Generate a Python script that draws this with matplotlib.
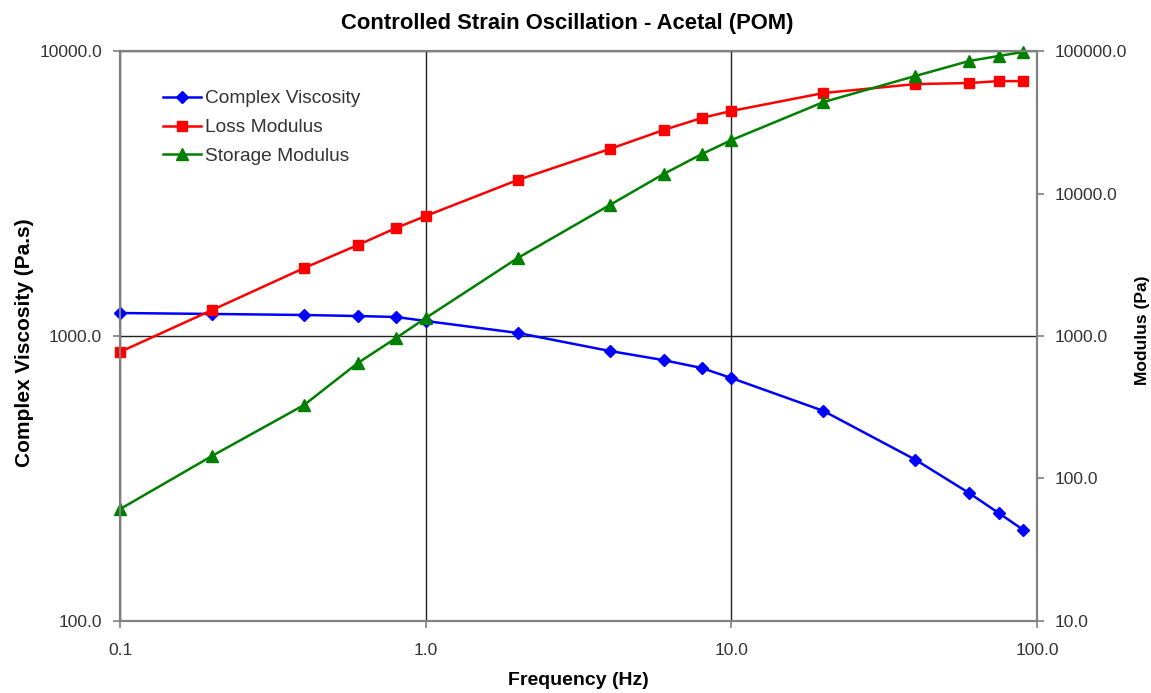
import matplotlib.pyplot as plt
from matplotlib.ticker import FixedLocator, FuncFormatter, NullLocator

plt.rcParams["font.family"] = ["Liberation Sans", "DejaVu Sans"]

# data
freq = [0.1, 0.2, 0.4, 0.6, 0.8, 1.0, 2, 4, 6, 8, 10, 20, 40, 60, 75, 90]
viscosity = [1204, 1195, 1185, 1175, 1166, 1129, 1025, 886, 823, 772, 712,
             546, 368, 281, 239, 209]
loss_mod = [773, 1521, 2999, 4350, 5730, 6953, 12440, 20530, 27900, 33900,
            37950, 50700, 58600, 59600, 61500, 61500]
storage_mod = [61, 144, 328, 647, 968, 1337, 3524, 8300, 13700, 18900,
               23700, 43800, 66800, 85100, 92300, 98400]

x_ticks = [0.1, 1.0, 10.0, 100.0]
left_ticks = [100.0, 1000.0, 10000.0]
right_ticks = [10.0, 100.0, 1000.0, 10000.0, 100000.0]

fig = plt.figure(figsize=(11.51, 6.93), dpi=100)
ax = fig.add_axes([0.1043, 0.1039, 0.7967, 0.8225])
ax2 = ax.twinx()

fmt = FuncFormatter(lambda v, p: f"{v:.1f}")

ax.set_xscale("log")
ax.set_yscale("log")
ax.set_xlim(0.1, 100)
ax.set_ylim(100, 10000)
ax.xaxis.set_major_locator(FixedLocator(x_ticks))
ax.yaxis.set_major_locator(FixedLocator(left_ticks))
ax.xaxis.set_minor_locator(NullLocator())
ax.yaxis.set_minor_locator(NullLocator())
ax.xaxis.set_major_formatter(fmt)
ax.yaxis.set_major_formatter(fmt)
ax.grid(True, color="#222222", linewidth=1.0)

ax2.set_yscale("log")
ax2.set_ylim(10, 100000)
ax2.yaxis.set_major_locator(FixedLocator(right_ticks))
ax2.yaxis.set_minor_locator(NullLocator())
ax2.yaxis.set_major_formatter(fmt)

for a in (ax, ax2):
    for s in a.spines.values():
        s.set_color("#808080")
        s.set_linewidth(1.5)
    a.tick_params(axis="both", direction="out", length=5, width=1.2,
                  color="#808080", labelsize=12.5, labelcolor="#333333", pad=8)
ax.tick_params(axis="x", pad=11)

l1, = ax.plot(freq, viscosity, color="#0000ff", marker="D", markersize=6,
              linewidth=1.8, label="Complex Viscosity")
l2, = ax2.plot(freq, loss_mod, color="#ff0000", marker="s", markersize=6.5,
               linewidth=1.8, label="Loss Modulus")
l3, = ax2.plot(freq, storage_mod, color="#008000", marker="^", markersize=8,
               linewidth=1.8, label="Storage Modulus")
for ln in (l1, l2, l3):
    ln.set_clip_on(False)

ax.set_xlabel("Frequency (Hz)", fontsize=14, fontweight="bold", labelpad=10)
ax.set_ylabel("Complex Viscosity (Pa.s)", fontsize=15, fontweight="bold",
              va="center", ha="center")
ax.yaxis.set_label_coords(-0.104, 0.488)
ax2.set_ylabel("Modulus (Pa)", fontsize=12.5, fontweight="bold",
               va="center", ha="center")
ax2.yaxis.set_label_coords(1.1145, 0.51)
ax.set_title("Controlled Strain Oscillation - Acetal (POM)", fontsize=15.8,
             fontweight="bold", x=0.488, y=1.049, va="center", pad=0)

leg = ax2.legend(handles=[l1, l2, l3], loc="upper left",
                 bbox_to_anchor=(0.028, 0.962), frameon=False, fontsize=13.8,
                 handlelength=2.0, handletextpad=0.2, labelspacing=0.6)
for t in leg.get_texts():
    t.set_color("#333333")

fig.savefig("out.png", dpi=100)
